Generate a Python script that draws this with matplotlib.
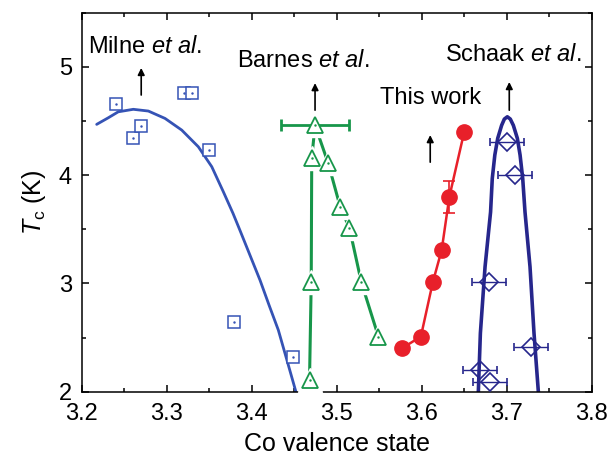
import matplotlib
matplotlib.use("Agg")
import matplotlib.pyplot as plt
from matplotlib.ticker import MultipleLocator

plt.rcParams['font.family'] = ['Liberation Sans', 'DejaVu Sans']
plt.rcParams['mathtext.fontset'] = 'custom'
plt.rcParams['mathtext.rm'] = 'Liberation Sans'
plt.rcParams['mathtext.it'] = 'Liberation Sans:italic'

# Milne et al. (open squares + fitted curve)
milne_x = [3.24, 3.26, 3.27, 3.32, 3.33, 3.35, 3.379, 3.449]
milne_y = [4.66, 4.34, 4.45, 4.76, 4.76, 4.23, 2.64, 2.32]
milne_fit_x = [3.2176, 3.2313, 3.243, 3.2607, 3.2784, 3.298, 3.3177, 3.3372, 3.353,
               3.3666, 3.378, 3.3862, 3.398, 3.4098, 3.4204, 3.4313, 3.4415, 3.452]
milne_fit_y = [4.469, 4.53, 4.585, 4.608, 4.592, 4.524, 4.416, 4.262, 4.078,
               3.847, 3.647, 3.49, 3.26, 3.03, 2.80, 2.57, 2.29, 2.00]

# Barnes et al. (open triangles, two branches from the top point)
barnes_top = (3.4745, 4.46)
barnes_top_xerr = 0.04
barnes_left_x = [3.4745, 3.4706, 3.470, 3.468]
barnes_left_y = [4.46, 4.155, 3.01, 2.11]
barnes_right_x = [3.4745, 3.490, 3.504, 3.515, 3.529, 3.549]
barnes_right_y = [4.46, 4.11, 3.71, 3.51, 3.01, 2.51]

# This work (filled circles)
work_x = [3.5765, 3.599, 3.613, 3.6235, 3.6325, 3.650]
work_y = [2.40, 2.51, 3.01, 3.31, 3.80, 4.40]
work_yerr = [0, 0, 0, 0, 0.15, 0]

# Schaak et al. (open diamonds with x error bars + curve)
schaak_x = [3.700, 3.710, 3.6795, 3.729, 3.669, 3.680]
schaak_y = [4.31, 4.00, 3.01, 2.41, 2.20, 2.09]
schaak_xerr = 0.02
schaak_fit_x = [3.6666, 3.669, 3.6745, 3.681, 3.683, 3.686, 3.6894, 3.694, 3.6972, 3.7007,
                3.7042, 3.7078, 3.7125, 3.7157, 3.7188, 3.7215, 3.7274, 3.7321, 3.7372]
schaak_fit_y = [2.00, 2.54, 3.154, 3.66, 3.97, 4.186, 4.34, 4.46, 4.518, 4.539,
                4.518, 4.46, 4.34, 4.186, 3.97, 3.66, 3.154, 2.54, 2.00]

labels = ['Milne $\\mathit{et\\ al.}$', 'Barnes $\\mathit{et\\ al.}$', 'This work', 'Schaak $\\mathit{et\\ al.}$']
label_x = [3.275, 3.46, 3.61, 3.7075]
label_y = [5.185, 5.05, 4.71, 5.11]
arrow_x = [3.27, 3.4745, 3.61, 3.703]
arrow_y0 = [4.74, 4.60, 4.12, 4.60]
arrow_y1 = [4.99, 4.85, 4.37, 4.86]

c_milne = '#3553b5'
c_barnes = '#17964a'
c_work = '#e8202a'
c_schaak = '#26268c'

fig = plt.figure(figsize=(6.13, 4.62), dpi=100)
ax = fig.add_axes([0.1333, 0.152, 0.832, 0.8205])

# Milne
ax.plot(milne_fit_x, milne_fit_y, color=c_milne, lw=2.0, zorder=2,
        solid_joinstyle='round', solid_capstyle='round')
ax.plot(milne_x, milne_y, 's', ms=9, mfc='white', mec=c_milne, mew=1.1, zorder=3)
ax.plot(milne_x, milne_y, '.', ms=1.5, color=c_milne, zorder=4)

# Barnes
for bx, by in [(barnes_left_x, barnes_left_y), (barnes_right_x, barnes_right_y)]:
    ax.plot(bx, by, '-', color=c_barnes, lw=2.2, zorder=2)
bx_all = barnes_left_x + barnes_right_x[1:]
by_all = barnes_left_y + barnes_right_y[1:]
ax.plot(bx_all, by_all, '^', ms=17, mfc='white', mec='white', zorder=3)
ax.errorbar([barnes_top[0]], [barnes_top[1]], xerr=barnes_top_xerr, fmt='none',
            ecolor=c_barnes, elinewidth=2.0, capsize=4, capthick=2.0, zorder=4)
ax.plot(bx_all, by_all, '^', ms=12, mfc='white', mec=c_barnes, mew=1.3, zorder=5)
ax.plot(bx_all, by_all, '.', ms=1.5, color=c_barnes, zorder=6)

# This work
ax.errorbar(work_x, work_y, yerr=work_yerr, fmt='o-', color=c_work, ms=11, lw=1.8,
            elinewidth=1.2, capsize=4, capthick=1.2, zorder=5)

# Schaak
ax.plot(schaak_fit_x, schaak_fit_y, color=c_schaak, lw=2.6, zorder=2,
        solid_joinstyle='round')
ax.errorbar(schaak_x, schaak_y, xerr=schaak_xerr, fmt='D', ms=9.5, mfc='none',
            mec=c_schaak, mew=1.2, ecolor=c_schaak, elinewidth=1.0, capsize=3,
            capthick=1.0, zorder=4)

# labels and arrows
for t, tx, ty in zip(labels, label_x, label_y):
    ax.text(tx, ty, t, fontsize=17, ha='center', va='center', zorder=7)
for axx, y0, y1 in zip(arrow_x, arrow_y0, arrow_y1):
    ax.annotate('', xy=(axx, y1), xytext=(axx, y0),
                arrowprops=dict(arrowstyle='-|>', color='black', lw=1.2,
                                mutation_scale=10, shrinkA=0, shrinkB=0), zorder=7)

ax.set_xlim(3.2, 3.8)
ax.set_ylim(2, 5.5)
ax.xaxis.set_major_locator(MultipleLocator(0.1))
ax.xaxis.set_minor_locator(MultipleLocator(0.05))
ax.yaxis.set_major_locator(MultipleLocator(1))
ax.yaxis.set_minor_locator(MultipleLocator(0.5))
ax.tick_params(which='both', direction='in', top=True, right=True, labelsize=17, width=1.1)
ax.tick_params(which='major', length=5)
ax.tick_params(which='minor', length=3)
ax.tick_params(axis='x', pad=8)
ax.tick_params(axis='y', pad=7)
for s in ax.spines.values():
    s.set_linewidth(1.1)

ax.set_xlabel('Co valence state', fontsize=18, labelpad=5)
ax.set_ylabel('$T_{\\rm c}$ (K)', fontsize=18, labelpad=8)

fig.savefig('out.png', dpi=100)
